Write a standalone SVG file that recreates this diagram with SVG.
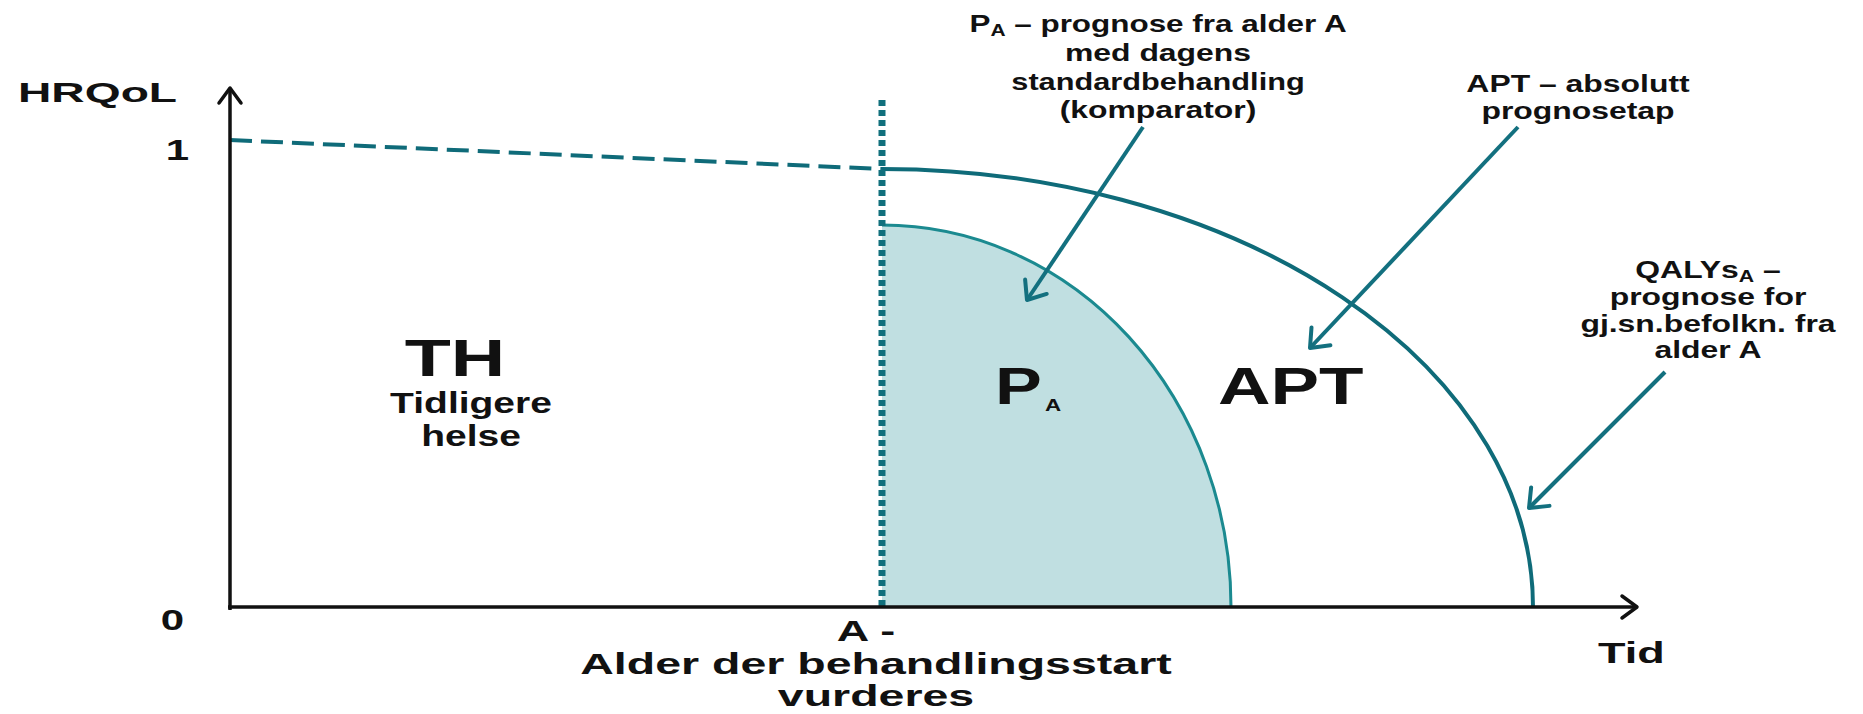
<svg xmlns="http://www.w3.org/2000/svg" width="1863" height="714" viewBox="0 0 1863 714">
<defs>
<style>
text{font-family:"Liberation Sans",Arial,sans-serif;font-weight:bold;fill:#111;}
.axis{stroke:#111;stroke-width:3.5;fill:none;}
.conn{stroke:#13707f;stroke-width:4;fill:none;}
.lbl{font-size:24px;}
.mid{font-size:30px;}
.big{font-size:52px;}
</style>
<marker id="ah" markerUnits="userSpaceOnUse" viewBox="-20 -16 24 32" markerWidth="24" markerHeight="32" refX="0" refY="0" orient="auto">
<path d="M-16,-13 L0,0 L-16,13" fill="none" stroke="#13707f" stroke-width="4" stroke-linecap="round" stroke-linejoin="round"/>
</marker>
<marker id="axh" markerUnits="userSpaceOnUse" viewBox="-20 -16 24 32" markerWidth="24" markerHeight="32" refX="0" refY="0" orient="auto">
<path d="M-15,-11 L0,0 L-15,11" fill="none" stroke="#111" stroke-width="3.5" stroke-linecap="round" stroke-linejoin="round"/>
</marker>
</defs>
<rect width="1863" height="714" fill="#fff"/>

<g id="region-PA-shape">
<path d="M882,225 A349,382 0 0 1 1231,607 L882,607 Z" fill="#c0dfe1"/>
<path d="M882,225 A349,382 0 0 1 1231,607" fill="none" stroke="#1b8a90" stroke-width="3"/>
</g>
<g id="curve-QALY">
<path d="M882,169 A651,438 0 0 1 1533,607" fill="none" stroke="#0f6b79" stroke-width="4"/>
<line x1="230" y1="140" x2="882" y2="169" stroke="#0f6b79" stroke-width="4" stroke-dasharray="22 9"/>
</g>
<g id="age-line">
<line x1="882" y1="100" x2="882" y2="607" stroke="#11707d" stroke-width="7" stroke-dasharray="6 4"/>
</g>

<g id="axes">
<line class="axis" x1="230" y1="610" x2="230" y2="88" marker-end="url(#axh)"/>
<line class="axis" x1="228" y1="607" x2="1637" y2="607" marker-end="url(#axh)"/>
<text class="mid" transform="translate(18,102) scale(1.65,1)" style="font-size:28px">HRQoL</text>
<text class="mid" text-anchor="end" transform="translate(189,160) scale(1.4,1)">1</text>
<text class="mid" text-anchor="end" transform="translate(184,630) scale(1.4,1)">0</text>
<text class="mid" transform="translate(1598,663) scale(1.5,1)">Tid</text>
</g>

<g id="node-A">
<text class="mid" text-anchor="middle" transform="translate(866,641) scale(1.5,1)">A -</text>
<text class="mid" text-anchor="middle" transform="translate(876,674) scale(1.55,1)">Alder der behandlingsstart</text>
<text class="mid" text-anchor="middle" transform="translate(876,706) scale(1.55,1)">vurderes</text>
</g>

<g id="node-TH">
<text class="big" text-anchor="middle" transform="translate(455,376) scale(1.45,1)">TH</text>
<text class="mid" text-anchor="middle" transform="translate(471,413) scale(1.3,1)">Tidligere</text>
<text class="mid" text-anchor="middle" transform="translate(471,446) scale(1.3,1)">helse</text>
</g>

<g id="node-PA">
<text class="big" transform="translate(995,404) scale(1.35,1)">P</text>
<text transform="translate(1045,411) scale(1.4,1)" style="font-size:16px">A</text>
</g>

<g id="node-APT">
<text class="big" transform="translate(1218,404) scale(1.4,1)">APT</text>
</g>

<g id="label-PA">
<text class="lbl" text-anchor="middle" transform="translate(1158,32) scale(1.31,1)">P<tspan style="font-size:16px" dy="4">A</tspan><tspan dy="-4"> – prognose fra alder A</tspan></text>
<text class="lbl" text-anchor="middle" transform="translate(1158,61) scale(1.33,1)">med dagens</text>
<text class="lbl" text-anchor="middle" transform="translate(1158,90) scale(1.28,1)">standardbehandling</text>
<text class="lbl" text-anchor="middle" transform="translate(1158,118) scale(1.33,1)">(komparator)</text>
</g>

<g id="label-APT">
<text class="lbl" text-anchor="middle" transform="translate(1578,92) scale(1.33,1)">APT – absolutt</text>
<text class="lbl" text-anchor="middle" transform="translate(1578,119) scale(1.33,1)">prognosetap</text>
</g>

<g id="label-QALY">
<text class="lbl" text-anchor="middle" transform="translate(1708,278) scale(1.33,1)">QALYs<tspan style="font-size:16px" dy="4">A</tspan><tspan dy="-4"> –</tspan></text>
<text class="lbl" text-anchor="middle" transform="translate(1708,305) scale(1.33,1)">prognose for</text>
<text class="lbl" text-anchor="middle" transform="translate(1708,332) scale(1.33,1)">gj.sn.befolkn. fra</text>
<text class="lbl" text-anchor="middle" transform="translate(1708,358) scale(1.33,1)">alder A</text>
</g>

<g id="connectors">
<line class="conn" x1="1143" y1="127" x2="1027" y2="300" marker-end="url(#ah)"/>
<line class="conn" x1="1518" y1="127" x2="1310" y2="348" marker-end="url(#ah)"/>
<line class="conn" x1="1665" y1="372" x2="1529" y2="508" marker-end="url(#ah)"/>
</g>
</svg>
